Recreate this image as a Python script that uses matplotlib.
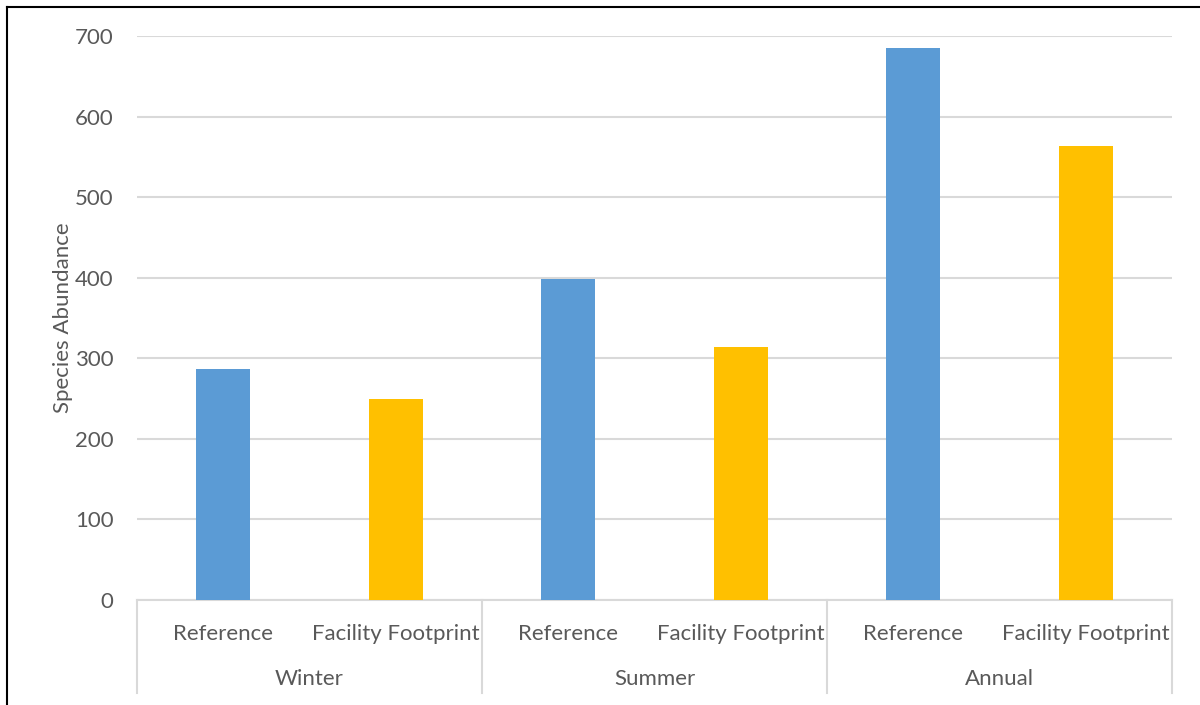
import matplotlib
matplotlib.use("Agg")
import matplotlib.pyplot as plt
from matplotlib.lines import Line2D
import matplotlib.transforms as mtransforms

groups = ["Winter", "Summer", "Annual"]
sub_labels = ["Reference", "Facility Footprint"]
values = [287, 249, 398, 314, 685, 563]
colors_list = ["#5B9BD5", "#FFC000"]
yticks = [0, 100, 200, 300, 400, 500, 600, 700]
ylabel = "Species Abundance"

plt.rcParams['font.family'] = ['Lato', 'DejaVu Sans']
TXT = "#595959"
GRID = "#D9D9D9"
FS = 16

W, H = 1200, 705
fig = plt.figure(figsize=(W / 100, H / 100), dpi=100)
x0, x1, yb, yt = 137, 1172, 600, 36
ymax = 700
ax = fig.add_axes([x0 / W, (H - yb) / H, (x1 - x0) / W, (yb - yt) / H])

n = len(groups) * len(sub_labels)
xs = list(range(n))
bar_colors = [colors_list[i % 2] for i in range(n)]
ax.bar(xs, values, width=0.315, color=bar_colors, zorder=3)

ax.set_xlim(-0.5, n - 0.5)
ax.set_ylim(0, ymax)
ax.set_yticks(yticks)
ax.set_yticklabels([str(v) for v in yticks], fontsize=FS, color=TXT)
ax.tick_params(axis='y', length=0, pad=17)
ax.tick_params(axis='x', length=0, pad=17)
ax.set_xticks(xs)
ax.set_xticklabels([sub_labels[i % 2] for i in range(n)], fontsize=FS, color=TXT)
ax.yaxis.grid(True, color=GRID, linewidth=1.5, zorder=0)
for s in ["left", "right", "top"]:
    ax.spines[s].set_visible(False)
ax.spines["bottom"].set_color(GRID)
ax.spines["bottom"].set_linewidth(1.5)
ax.set_ylabel(ylabel, fontsize=FS, color=TXT, labelpad=1)

trans = mtransforms.blended_transform_factory(ax.transData, ax.transAxes)
ah = (yb - yt)
depth = (693 - yb) / ah
for i in range(len(groups) + 1):
    xb = -0.5 + 2 * i
    ax.plot([xb, xb], [0, -depth], transform=trans, color=GRID, linewidth=1.5,
            clip_on=False)
for gi, g in enumerate(groups):
    ax.text(0.5 + 2 * gi, -(679 - yb) / ah, g, transform=trans, ha='center',
            va='center', fontsize=FS, color=TXT)

fig.add_artist(Line2D([7 / W, 7 / W], [0, 1 - 7 / H], color='black', linewidth=1.5,
                      transform=fig.transFigure))
fig.add_artist(Line2D([7 / W, 1], [1 - 7 / H, 1 - 7 / H], color='black', linewidth=1.5,
                      transform=fig.transFigure))

fig.savefig("out.png", dpi=100)
